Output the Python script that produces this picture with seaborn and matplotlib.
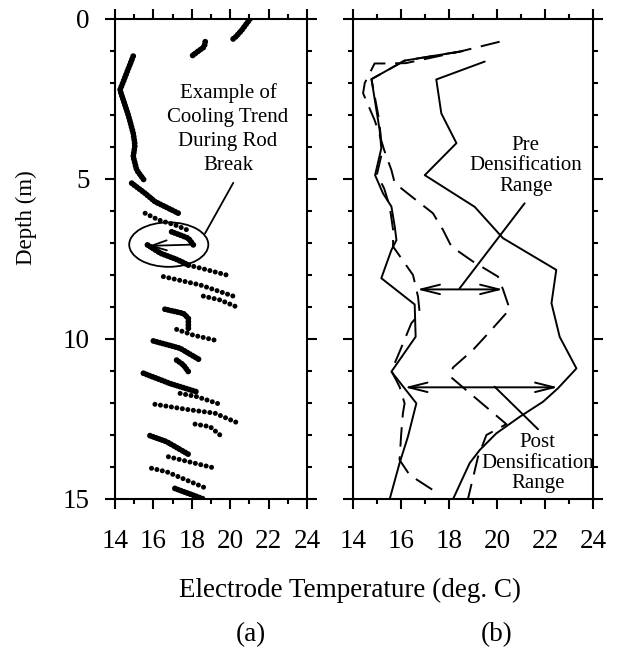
import matplotlib
matplotlib.use("Agg")
import matplotlib.pyplot as plt
import seaborn as sns
import pandas as pd
from matplotlib.patches import Ellipse
from matplotlib.ticker import MultipleLocator

# ---------------- data ----------------
# Panel (a): electrode temperature readings, grouped in short runs
rod_temps = [
    [21.03, 20.6, 20.3, 20.08],
    [18.7, 18.65, 18.3, 18.0],
    [14.95, 14.26, 14.43, 14.69, 14.95, 15.04, 14.95, 15.13, 15.57],
    [14.87, 15.57, 16.09, 17.3],
    [15.57, 16.27, 17.14, 17.75],
    [16.95, 17.82, 18.08],
    [15.69, 16.37, 17.28, 17.82],
    [17.82, 18.49, 20.0],
    [16.52, 18.43, 20.16],
    [18.6, 19.47, 20.51],
    [16.6, 17.56, 17.82, 17.82],
    [17.21, 18.08, 19.3],
    [16.0, 17.39, 18.43],
    [17.21, 17.56, 17.82],
    [15.48, 16.86, 18.25],
    [17.39, 18.25, 19.47],
    [16.08, 17.73, 19.21, 20.42],
    [18.17, 18.95, 19.47],
    [15.82, 16.69, 17.9],
    [16.78, 19.03],
    [15.9, 16.69, 18.77],
    [17.12, 18.6],
]
rod_depths = [
    [0.0, 0.35, 0.55, 0.66],
    [0.71, 0.87, 1.02, 1.16],
    [1.16, 2.22, 2.53, 3.0, 3.57, 3.94, 4.3, 4.72, 5.08],
    [5.13, 5.45, 5.71, 6.07],
    [6.07, 6.28, 6.44, 6.59],
    [6.65, 6.85, 7.06],
    [7.06, 7.32, 7.53, 7.69],
    [7.69, 7.79, 8.03],
    [8.05, 8.31, 8.66],
    [8.66, 8.78, 9.04],
    [9.07, 9.2, 9.35, 9.67],
    [9.7, 9.88, 10.05],
    [10.06, 10.29, 10.66],
    [10.66, 10.81, 11.02],
    [11.07, 11.39, 11.65],
    [11.7, 11.8, 12.04],
    [12.04, 12.2, 12.32, 12.63],
    [12.66, 12.74, 13.0],
    [13.02, 13.21, 13.63],
    [13.68, 14.01],
    [14.04, 14.15, 14.67],
    [14.67, 15.0],
]
rod_spaced = [False, False, False, False, True, False, False, True, True, True, False,
              True, False, False, False, True, True, True, False, True, True, False]

# Panel (b): envelope of readings before / after densification
pre_min_temp = [18.6, 16.15, 14.77, 15.05, 15.15, 15.2, 15.0, 15.3, 15.53, 15.67, 15.67,
                16.5, 16.71, 16.78, 16.43, 15.94, 15.6, 15.94, 16.15, 16.08, 16.01,
                15.94, 16.36, 17.33]
pre_min_depth = [1.0, 1.3, 1.88, 3.0, 3.6, 4.2, 4.85, 5.3, 5.86, 6.59, 7.11,
                 8.0, 8.68, 9.2, 9.51, 10.4, 11.0, 11.49, 12.01, 12.32, 12.95,
                 13.78, 14.25, 14.72]
pre_max_temp = [20.11, 18.44, 16.2, 15.25, 14.9, 14.49, 14.42, 14.9, 15.1, 15.3, 15.6,
                15.74, 16.36, 17.33, 17.75, 18.1, 19.0, 20.04, 20.25, 20.53, 19.76,
                19.0, 18.17, 18.03, 20.39, 19.56, 19.21, 18.79]
pre_max_depth = [0.71, 1.02, 1.38, 1.39, 1.39, 2.0, 2.32, 3.16, 3.6, 4.1, 4.72,
                 5.13, 5.5, 6.07, 6.59, 7.11, 7.58, 8.05, 8.45, 9.07, 9.72,
                 10.34, 10.89, 11.16, 12.66, 13.0, 13.68, 15.0]
post_min_temp = [18.44, 16.15, 14.77, 15.11, 15.18, 14.92, 15.25, 15.6, 15.74, 15.81,
                 15.60, 15.18, 16.57, 16.61, 15.60, 16.64, 16.29, 15.94, 15.53]
post_min_depth = [1.02, 1.30, 1.88, 3.47, 4.04, 4.88, 5.45, 5.86, 6.49, 6.91,
                  7.22, 8.1, 8.92, 9.93, 11.02, 12.01, 13.05, 13.88, 15.0]
post_max_temp = [19.49, 17.47, 17.68, 18.31, 16.99, 19.07, 20.25, 22.47, 22.27, 22.61,
                 23.31, 22.54, 21.92, 20.95, 19.97, 19.28, 18.86, 18.17]
post_max_depth = [1.33, 1.89, 2.95, 3.88, 4.88, 5.87, 6.85, 7.84, 8.88, 9.93,
                  10.92, 11.54, 11.96, 12.43, 12.95, 13.47, 13.88, 15.0]

x_ticks = [14, 16, 18, 20, 22, 24]
y_ticks = [0, 5, 10, 15]

# ---------------- tables ----------------
rows = []
for i, (ts, ds) in enumerate(zip(rod_temps, rod_depths)):
    for t, d in zip(ts, ds):
        rows.append({"seg": i, "temp": t, "depth": d, "spaced": rod_spaced[i]})
df_a = pd.DataFrame(rows)

rows = []
for name, kind, ts, ds in [("pre_min", "Pre", pre_min_temp, pre_min_depth),
                           ("pre_max", "Pre", pre_max_temp, pre_max_depth),
                           ("post_min", "Post", post_min_temp, post_min_depth),
                           ("post_max", "Post", post_max_temp, post_max_depth)]:
    for t, d in zip(ts, ds):
        rows.append({"bound": name, "kind": kind, "temp": t, "depth": d})
df_b = pd.DataFrame(rows)

# ---------------- style ----------------
sns.set_theme(style="ticks")
plt.rcParams["font.family"] = ["Liberation Serif", "DejaVu Serif"]
plt.rcParams.update({"axes.edgecolor": "black", "text.color": "black",
                     "xtick.color": "black", "ytick.color": "black",
                     "axes.labelcolor": "black", "axes.linewidth": 1.5})

FS = 19.5
ANN = 15
fig = plt.figure(figsize=(6.19, 6.49), dpi=100)
W, H = 619, 649
axa = fig.add_axes([115 / W, 1 - 499 / H, 192 / W, 480 / H])
axb = fig.add_axes([353 / W, 1 - 499 / H, 240 / W, 480 / H])

dense = df_a[~df_a["spaced"]]
spaced = df_a[df_a["spaced"]]
# Panel (a) dotted runs
sns.lineplot(data=dense, x="temp", y="depth", units="seg", estimator=None,
             sort=False, color="black", lw=4.2, linestyle=(0, (0.01, 0.55)),
             dash_capstyle="round", ax=axa, legend=False)
sns.lineplot(data=spaced, x="temp", y="depth", units="seg", estimator=None,
             sort=False, color="black", lw=3.6, linestyle=(0, (0.01, 1.1)),
             dash_capstyle="round", ax=axa, legend=False)

# Panel (b) envelopes
sns.lineplot(data=df_b, x="temp", y="depth", units="bound", style="kind",
             dashes={"Post": "", "Pre": (10, 5)}, estimator=None, sort=False,
             color="black", lw=1.4, ax=axb, legend=False)

for ax in (axa, axb):
    ax.set_xlim(14, 24)
    ax.set_ylim(15, 0)
    ax.set_xticks(x_ticks)
    ax.set_yticks(y_ticks)
    ax.xaxis.set_minor_locator(MultipleLocator(1))
    ax.yaxis.set_minor_locator(MultipleLocator(1))
    ax.tick_params(which="both", direction="out", top=True, right=True,
                   bottom=True, left=True, width=1.5, labelsize=FS)
    ax.tick_params(which="major", length=7.5)
    ax.tick_params(which="minor", length=3.8)
    ax.tick_params(axis="x", which="major", pad=14)
    ax.tick_params(axis="y", which="major", pad=10.5)
    ax.set_xlabel("")
    ax.set_ylabel("")
    for s in ax.spines.values():
        s.set_linewidth(1.5)
        s.set_visible(True)
axb.tick_params(labelleft=False)

# Annotations panel (a)
axa.text(19.89, 3.44, "Example of\nCooling Trend\nDuring Rod\nBreak", ha="center",
         va="center", fontsize=ANN, linespacing=1.35)
axa.plot([20.16, 18.69], [5.12, 6.70], color="black", lw=1.3)
axa.add_patch(Ellipse((16.8, 7.05), 4.12, 1.39, fill=False, lw=1.3, color="black"))
axa.annotate("", xy=(15.75, 7.09), xytext=(18.05, 7.05),
             arrowprops=dict(arrowstyle="->,head_length=0.55,head_width=0.18", lw=1.3,
                             color="black", shrinkA=0, shrinkB=0, mutation_scale=20))

# Annotations panel (b)
arrow = dict(arrowstyle="<->,head_length=0.68,head_width=0.17", lw=1.4, color="black",
             shrinkA=0, shrinkB=0, mutation_scale=20)
axb.annotate("", xy=(16.67, 8.45), xytext=(20.25, 8.45), arrowprops=arrow)
axb.annotate("", xy=(16.15, 11.51), xytext=(22.54, 11.51), arrowprops=arrow)
axb.plot([21.15, 18.44], [5.76, 8.42], color="black", lw=1.4)
axb.plot([19.9, 21.71], [11.49, 12.82], color="black", lw=1.4)
axb.text(21.2, 4.59, "Pre\nDensification\nRange", ha="center", va="center",
         fontsize=ANN, linespacing=1.1)
axb.text(21.7, 13.88, "Post\nDensification\nRange", ha="center", va="center",
         fontsize=ANN, linespacing=1.1)

fig.text(350 / W, 1 - 597 / H, "Electrode Temperature (deg. C)", ha="center",
         va="baseline", fontsize=FS)
fig.text(251 / W, 1 - 641 / H, "(a)", ha="center", va="baseline", fontsize=FS)
fig.text(497 / W, 1 - 641 / H, "(b)", ha="center", va="baseline", fontsize=FS)
fig.text(26 / W, 1 - 218 / H, "Depth (m)", ha="center", va="center",
         rotation=90, fontsize=16.5)

fig.savefig("out.png", dpi=100)
